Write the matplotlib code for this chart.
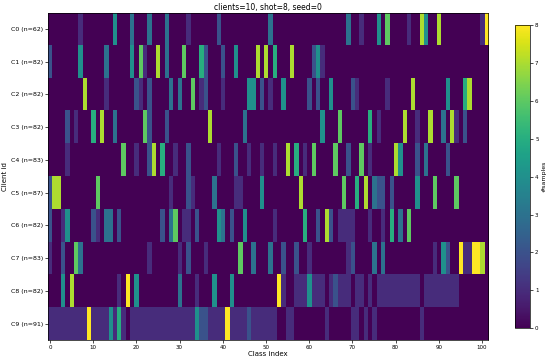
import numpy as np
import matplotlib
matplotlib.use("Agg")
import matplotlib.pyplot as plt

n_classes = 102
client_names = ["C0", "C1", "C2", "C3", "C4", "C5", "C6", "C7", "C8", "C9"]
client_n = [62, 82, 82, 82, 83, 87, 82, 83, 82, 91]

# samples per class for each client (class index -> count)
c0 = {7: 1, 15: 4, 19: 3, 23: 3, 27: 3, 32: 1, 39: 2, 51: 3, 69: 3, 72: 1, 76: 4,
      78: 6, 83: 1, 86: 7, 87: 4, 90: 7, 100: 1, 101: 8}
c1 = {0: 2, 7: 4, 13: 3, 19: 4, 21: 6, 22: 1, 25: 7, 27: 3, 31: 6, 35: 5, 36: 2,
      40: 2, 43: 4, 48: 7, 50: 7, 52: 5, 56: 7, 61: 2, 62: 4, 63: 1}
c2 = {8: 7, 13: 1, 20: 2, 21: 1, 23: 2, 28: 3, 30: 3, 33: 6, 35: 1, 36: 2, 40: 1,
      46: 4, 47: 4, 49: 2, 51: 1, 54: 4, 60: 2, 62: 2, 65: 4, 70: 2, 71: 1, 78: 1,
      84: 7, 92: 4, 96: 5, 97: 7}
c3 = {4: 2, 6: 1, 10: 5, 12: 7, 15: 3, 22: 6, 23: 2, 27: 2, 37: 7, 45: 3, 63: 4,
      67: 6, 74: 5, 76: 1, 82: 7, 85: 1, 88: 7, 91: 3, 93: 7, 94: 1, 96: 2}
c4 = {4: 1, 17: 6, 20: 1, 23: 2, 24: 7, 26: 5, 29: 1, 32: 2, 39: 1, 43: 2, 46: 1,
      49: 1, 52: 1, 55: 7, 57: 5, 59: 1, 61: 6, 66: 6, 69: 2, 72: 6, 74: 1, 80: 7,
      81: 4, 85: 2, 87: 3, 92: 2}
c5 = {0: 2, 1: 7, 2: 7, 11: 6, 28: 1, 32: 2, 33: 1, 38: 3, 43: 1, 44: 1, 49: 4,
      58: 7, 68: 6, 71: 5, 73: 7, 75: 3, 76: 2, 77: 2, 79: 2, 85: 4, 89: 6, 94: 6}
c6 = {0: 2, 3: 1, 4: 4, 10: 2, 11: 1, 13: 3, 14: 3, 16: 2, 26: 2, 28: 3, 29: 6,
      31: 1, 32: 1, 34: 2, 39: 4, 40: 3, 42: 2, 45: 4, 52: 1, 59: 5, 62: 2, 64: 7,
      65: 2, 67: 1, 68: 1, 69: 1, 70: 1, 74: 1, 77: 1, 79: 5, 81: 3, 83: 6}
c7 = {0: 1, 3: 2, 6: 6, 7: 3, 23: 1, 30: 1, 32: 2, 36: 1, 44: 6, 47: 3, 51: 3,
      54: 2, 57: 2, 60: 1, 69: 1, 70: 2, 75: 3, 77: 3, 89: 1, 91: 4, 92: 2, 95: 8,
      96: 1, 97: 1, 98: 8, 99: 8, 100: 7}
c8 = {3: 4, 5: 7, 16: 1, 18: 8, 20: 4, 30: 3, 34: 1, 38: 4, 42: 4, 53: 8, 54: 1,
      57: 1, 58: 1, 59: 1, 60: 4, 61: 1, 62: 1, 63: 1, 65: 1, 66: 2, 67: 1,
      68: 1, 69: 1, 71: 1, 72: 1, 74: 1, 76: 1, 77: 1, 78: 1, 79: 1, 80: 1, 81: 1,
      82: 1, 83: 1, 84: 1, 85: 1, 87: 1, 88: 1, 89: 1, 90: 1, 91: 1, 92: 1, 93: 1,
      94: 1}
c9 = {0: 1, 1: 1, 2: 1, 3: 1, 4: 1, 5: 1, 6: 1, 7: 1, 8: 1, 9: 8, 10: 1, 11: 1,
      12: 1, 13: 1, 14: 4, 15: 1, 16: 5, 17: 1, 19: 1, 20: 1, 21: 1, 22: 1, 23: 1,
      24: 1, 25: 1, 26: 1, 27: 1, 28: 1, 29: 1, 30: 1, 31: 1, 32: 1, 33: 1, 34: 4,
      35: 2, 36: 2, 37: 1, 38: 1, 39: 1, 40: 1, 41: 8, 42: 1, 43: 1, 44: 1, 45: 1,
      46: 2, 47: 1, 48: 1, 49: 1, 50: 1, 51: 1, 52: 1, 55: 1, 56: 1, 64: 1, 70: 1,
      71: 1, 73: 1, 75: 1, 86: 1}

rows = [c0, c1, c2, c3, c4, c5, c6, c7, c8, c9]
mat = np.zeros((len(rows), n_classes))
for i, r in enumerate(rows):
    for k, v in r.items():
        mat[i, k] = v

fig = plt.figure(figsize=(5.5, 3.62), dpi=100)
ax = fig.add_axes([0.087, 0.061, 0.801, 0.904])
im = ax.imshow(mat, aspect="auto", cmap="viridis", vmin=0, vmax=8,
               interpolation="nearest")

fs = 4.5
ax.set_yticks(range(len(rows)))
ax.set_yticklabels([f"{c} (n={n})" for c, n in zip(client_names, client_n)], fontsize=fs)
ax.set_xticks(range(0, 101, 10))
ax.tick_params(axis="x", labelsize=fs - 0.5, length=2, width=0.5, pad=1.5)
ax.tick_params(axis="y", length=2, width=0.5, pad=1.5)
ax.set_xlabel("Class index", fontsize=fs + 0.5, labelpad=1)
ax.set_ylabel("Client id", fontsize=fs + 0.5, labelpad=2)
ax.set_title("clients=10, shot=8, seed=0", fontsize=5.5, pad=2)
for s in ax.spines.values():
    s.set_linewidth(0.5)

cax = fig.add_axes([0.936, 0.093, 0.028, 0.838])
cb = fig.colorbar(im, cax=cax)
cb.set_ticks(range(0, 9))
cb.ax.tick_params(labelsize=fs - 0.5, length=2, width=0.5, pad=1.5)
cb.set_label("#samples", fontsize=fs, labelpad=2)
cb.outline.set_linewidth(0.5)

fig.savefig("out.png", dpi=100)
